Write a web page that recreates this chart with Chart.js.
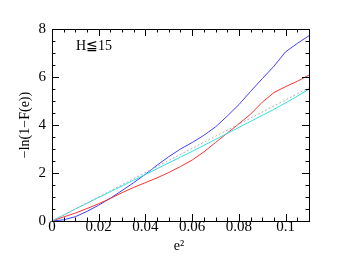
<!DOCTYPE html>
<html>
<head>
<meta charset="utf-8">
<script src="https://cdn.jsdelivr.net/npm/chart.js@4.4.1/dist/chart.umd.min.js"></script>
<style>
  html, body { margin: 0; padding: 0; background: #fff; }
  #wrap { width: 352px; height: 263px; }
</style>
</head>
<body>
<div id="wrap"><canvas id="c" width="352" height="263"></canvas></div>
<script>
// ---- data ----
const e2 = [0, 0.005, 0.01, 0.015, 0.02, 0.025, 0.03, 0.035, 0.04, 0.045, 0.05, 0.055,
            0.06, 0.065, 0.07, 0.075, 0.08, 0.085, 0.09, 0.095, 0.1, 0.105, 0.11];
const blueVals = [0, 0.05, 0.18, 0.4, 0.66, 0.95, 1.27, 1.6, 1.95, 2.33, 2.68, 3.0,
                  3.27, 3.57, 3.92, 4.37, 4.85, 5.4, 5.93, 6.45, 7.05, 7.4, 7.72];
const redVals  = [0, 0.17, 0.33, 0.52, 0.72, 0.94, 1.18, 1.4, 1.6, 1.8, 2.02, 2.27,
                  2.54, 2.88, 3.27, 3.66, 4.05, 4.45, 4.95, 5.35, 5.6, 5.82, 6.08];
const cyanVals = [0, 0.25, 0.5, 0.74, 0.98, 1.22, 1.46, 1.7, 1.94, 2.18, 2.42, 2.66,
                  2.9, 3.15, 3.4, 3.65, 3.9, 4.15, 4.4, 4.65, 4.92, 5.2, 5.5];
const refLineX = [0, 0.11];
const refLineY = [0, 5.55];

const xTicks = [0, 0.02, 0.04, 0.06, 0.08, 0.1];
const yTicks = [0, 2, 4, 6, 8];
const xMinorStep = 0.005;
const yMinorStep = 0.5;

const pts = (xs, ys) => xs.map((x, i) => ({ x, y: ys[i] }));
const serif = "'Liberation Serif', 'DejaVu Serif', serif";

// ---- frame + inward ticks on all four sides, plus labels ----
const framePlugin = {
  id: "frame",
  afterDraw(chart) {
    const { ctx, chartArea: a, scales: { x, y } } = chart;
    ctx.save();
    ctx.strokeStyle = "#000";
    ctx.lineWidth = 1;
    ctx.strokeRect(a.left + 0.5, a.top + 0.5, a.right - a.left, a.bottom - a.top);

    ctx.beginPath();
    for (let v = 0; v <= 0.11 + 1e-9; v += xMinorStep) {
      const px = Math.round(x.getPixelForValue(v)) + 0.5;
      const major = xTicks.some(t => Math.abs(t - v) < 1e-9);
      const len = major ? 7 : 3.5;
      ctx.moveTo(px, a.bottom); ctx.lineTo(px, a.bottom - len);
      ctx.moveTo(px, a.top); ctx.lineTo(px, a.top + len);
    }
    for (let v = 0; v <= 8 + 1e-9; v += yMinorStep) {
      const py = Math.round(y.getPixelForValue(v)) + 0.5;
      const major = yTicks.some(t => Math.abs(t - v) < 1e-9);
      const len = major ? 7 : 3.5;
      ctx.moveTo(a.left, py); ctx.lineTo(a.left + len, py);
      ctx.moveTo(a.right, py); ctx.lineTo(a.right - len, py);
    }
    ctx.stroke();

    ctx.fillStyle = "#000";
    ctx.font = "14px " + serif;
    ctx.textBaseline = "middle";
    ctx.textAlign = "left";
    ctx.fillText("H\u226615", 76, 46);

    ctx.textAlign = "center";
    ctx.fillText("e\u00b2", 179, 246);

    ctx.translate(25, 125);
    ctx.rotate(-Math.PI / 2);
    ctx.fillText("\u2212ln(1\u2212F(e))", 0, 0);
    ctx.restore();
  }
};

const line = (data, color, extra) => Object.assign({
  data, borderColor: color, borderWidth: 1, pointRadius: 0, tension: 0, fill: false,
  showLine: true
}, extra || {});

new Chart(document.getElementById("c"), {
  type: "scatter",
  data: {
    datasets: [
      line(pts(refLineX, refLineY), "#b0b0b0", { borderDash: [2, 2] }),
      line(pts(e2, cyanVals), "#30e0e0"),
      line(pts(e2, redVals), "#ff3030"),
      line(pts(e2, blueVals), "#4040ff")
    ]
  },
  options: {
    responsive: false,
    animation: false,
    layout: { padding: { left: 0, right: 43, top: 29, bottom: 0 } },
    plugins: { legend: { display: false }, tooltip: { enabled: false } },
    scales: {
      x: {
        type: "linear", min: 0, max: 0.11,
        afterBuildTicks: s => { s.ticks = xTicks.map(v => ({ value: v })); },
        afterFit: s => { s.height = 42; },
        grid: { display: false, drawTicks: false },
        border: { display: false },
        ticks: {
          color: "#000", padding: -3,
          font: { family: serif, size: 15 },
          callback: v => v === 0 ? "0" : String(+v.toFixed(2))
        }
      },
      y: {
        type: "linear", min: 0, max: 8,
        afterBuildTicks: s => { s.ticks = yTicks.map(v => ({ value: v })); },
        afterFit: s => { s.width = 52; },
        grid: { display: false, drawTicks: false },
        border: { display: false },
        ticks: {
          color: "#000", padding: 6,
          font: { family: serif, size: 15 }
        }
      }
    }
  },
  plugins: [framePlugin]
});
</script>
</body>
</html>
